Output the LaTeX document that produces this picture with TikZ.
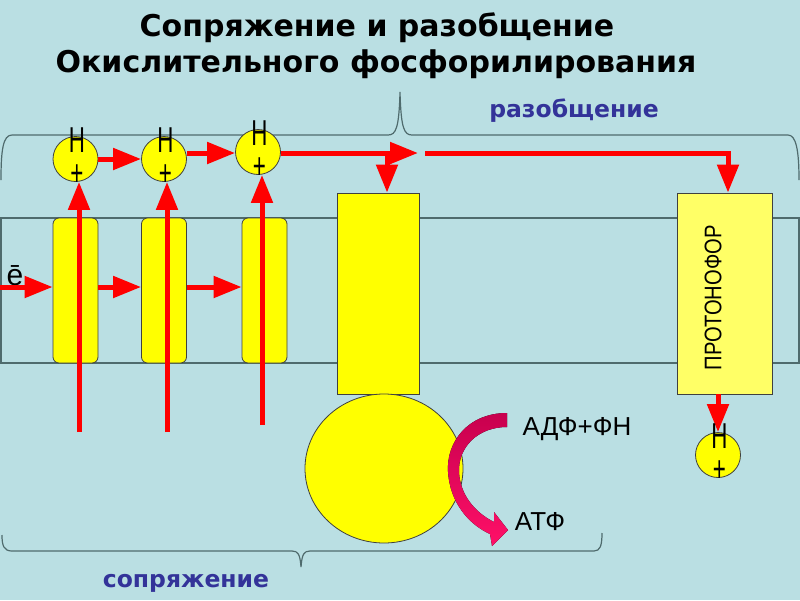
\documentclass[tikz,border=0pt]{standalone}
\usepackage{fontspec}
\setmainfont{Liberation Sans}
\newfontfamily\titlefont{DejaVu Sans}
\usetikzlibrary{arrows.meta,shapes.geometric}
\definecolor{bgblue}{HTML}{BADFE3}
\definecolor{memline}{HTML}{4F6B6D}
\definecolor{cyel}{HTML}{FFFF00}
\definecolor{pyel}{HTML}{FFFF66}
\definecolor{labblue}{HTML}{333399}
\definecolor{arrred}{HTML}{FF0000}
\definecolor{crimson}{HTML}{C8004E}
\definecolor{pinkred}{HTML}{FF1068}
\tikzset{
  complexbox/.style={draw=black!75, line width=0.8pt, fill=cyel, rounded corners=6pt,
    minimum width=45pt, minimum height=145pt, inner sep=0pt},
  plainbox/.style={draw=black!75, line width=0.8pt, inner sep=0pt},
  hcirc/.style={circle, draw=black!75, line width=0.8pt, fill=cyel, minimum size=45pt, inner sep=0pt},
  htext/.style={inner sep=0pt, font=\fontsize{36}{36}\selectfont},
  redarrow/.style={draw=arrred, line width=5pt, -{Triangle[length=28pt,width=21pt]}},
  bracestyle/.style={draw=memline, line width=1.2pt},
  memstyle/.style={draw=memline, line width=1.3pt},
  titletext/.style={inner sep=0pt, anchor=base, font=\titlefont\bfseries\fontsize{30}{36}\selectfont},
  bluelab/.style={inner sep=0pt, anchor=base, text=labblue, font=\titlefont\bfseries\fontsize{23.5}{26}\selectfont},
  plainlab/.style={inner sep=0pt, anchor=base, font=\fontsize{26}{28}\selectfont},
}
\newcommand{\narrowH}[1]{\scalebox{0.62}[1]{#1}}
\begin{document}
\begin{tikzpicture}[x=1pt,y=-1pt]
\fill[bgblue] (0,0) rectangle (800,600);
\useasboundingbox (0,0) rectangle (800,600);

% membrane
\draw[memstyle] (1,218) rectangle (799,363);

% braces
\draw[bracestyle] (1,180) .. controls (1,150) and (3,135) .. (12,135) -- (388,135)
  .. controls (396,135) and (399,128) .. (400,92) .. controls (401,128) and (404,135) .. (412,135)
  -- (788,135) .. controls (796,135) and (799,150) .. (799,180);
\draw[bracestyle] (2,535) .. controls (2,546) and (4,551) .. (12,551) -- (292,551)
  .. controls (298,551) and (300,554) .. (301,567) .. controls (302,554) and (304,551) .. (310,551)
  -- (594,551) .. controls (600,551) and (602,546) .. (602,533);

% title
\node[titletext] (t1) at (377,36) {Сопряжение и разобщение};
\node[titletext] (t2) at (376,72) {Окислительного фосфорилирования};
\node[bluelab] (ur) at (574,117) {разобщение};
\node[bluelab] (co) at (186,587) {сопряжение};

% complexes
\node[complexbox] (c1) at (75.5,290.5) {};
\node[complexbox] (c2) at (164,290.5) {};
\node[complexbox] (c3) at (264.5,290.5) {};
\node[plainbox, fill=cyel, minimum width=82pt, minimum height=201pt] (f0) at (378,293.5) {};
\node[ellipse, draw=black!75, line width=0.8pt, fill=cyel, minimum width=158pt, minimum height=149pt, inner sep=0pt] (f1) at (384,468.5) {};
\node[plainbox, fill=pyel, minimum width=95pt, minimum height=201pt] (p) at (724.5,293.5) {};
\node[inner sep=0pt, rotate=90, font=\fontsize{24}{24}\selectfont] (pt) at (713,298) {\scalebox{0.84}[1]{ПРОТОНОФОР}};

% H+ circles
\node[hcirc] (h1) at (75.5,159) {};
\node[hcirc] (h2) at (164,159) {};
\node[hcirc] (h3) at (258,152) {};
\node[hcirc] (h4) at (718,455) {};

% electron arrows
\coordinate (e0) at (0,287);
\node[plainlab, font=\fontsize{30}{30}\selectfont] (el) at (15,285) {ē};
\draw[redarrow] (e0) -- (e0 -| c1.west);
\draw[redarrow] (e0 -| c1.east) -- (e0 -| c2.west);
\draw[redarrow] (e0 -| c2.east) -- (e0 -| c3.west);

% proton arrows across membrane
\coordinate (b1) at (79,432);
\coordinate (b2) at (167,432);
\coordinate (b3) at (262,425);
\draw[redarrow] (b1) -- (b1 |- h1.south);
\draw[redarrow] (b2) -- (b2 |- h2.south);
\draw[redarrow] (b3) -- (b3 |- h3.south);

% arrows between H+ circles
\draw[redarrow] (h1) -- (h2);
\draw[redarrow] (h2.east |- 0,153) -- (h3.west |- 0,153);
\coordinate (a1) at (418,153);
\draw[redarrow] (h3.east |- a1) -- (a1);
\coordinate (d1) at (387,153);
\draw[redarrow] (d1) -- (d1 |- f0.north);
\coordinate (u1) at (425,153);
\coordinate (u2) at (728,153);
\draw[redarrow] (u1) -- (u2) -- (u2 |- p.north);
\draw[redarrow] (p.south -| h4) -- (h4.north);

% H+ texts
\foreach \n in {h1,h2,h3,h4}{
  \node[htext] (\n H) at ([xshift=1.5pt,yshift=19pt]\n.center) {\narrowH{H}};
  \node[htext] (\n P) at ([xshift=1.5pt,yshift=-16pt]\n.center) {\narrowH{+}};
}

% ADP -> ATP curved arrow
\fill[top color=crimson, bottom color=pinkred]
  (507,413) .. controls (468,413) and (446,442) .. (448,472)
  .. controls (450,502) and (468,524) .. (490,534) -- (492,546) -- (508,530) -- (494,512) -- (494,522)
  .. controls (474,512) and (460,494) .. (459,472)
  .. controls (458,447) and (478,427) .. (507,427) -- cycle;

\node[plainlab] (adp) at (577,435) {АДФ+ФН};
\node[plainlab] (atp) at (540,530) {АТФ};
\end{tikzpicture}
\end{document}
